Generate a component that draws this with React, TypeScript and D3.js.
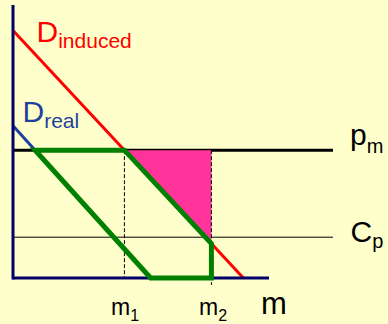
import React from "react";
import * as d3 from "d3";

// Model values (chart units)
const priceLevels = { pm: 4.7, cp: 1.5 };
const dInduced = { intercept: 9.1, zeroAt: 7.2 };
const dReal = { intercept: 5.6, zeroAt: 4.3 };
const quantities = { m2: 6.2, axisEnd: 8.0, lineEnd: 10.0 };
const axisTop = 10;
const labels = { dInd: ["D", "induced"], dReal: ["D", "real"], pm: ["p", "m"], cp: ["C", "p"], m1: ["m", "1"], m2: ["m", "2"], m: "m" };

const W = 388, H = 324;
const FONT = "Liberation Sans, Arial, sans-serif";

export default function App() {
  const x = d3.scaleLinear().domain([0, 10]).range([13, 333]);
  const y = d3.scaleLinear().domain([0, 10]).range([278, 6]);

  const dInd = (q: number) => dInduced.intercept * (1 - q / dInduced.zeroAt);
  const dRealQ = (p: number) => dReal.zeroAt * (1 - p / dReal.intercept);
  const dIndQ = (p: number) => dInduced.zeroAt * (1 - p / dInduced.intercept);

  const { pm, cp } = priceLevels;
  const m1 = dIndQ(pm);
  const m2 = quantities.m2;

  const line = d3.line<[number, number]>().x((d) => x(d[0])).y((d) => y(d[1]));

  const pink: [number, number][] = [[m1, pm], [m2, pm], [m2, dInd(m2)]];
  const green: [number, number][] = [
    [dRealQ(pm), pm], [m1, pm], [m2, dInd(m2)], [m2, 0], [dReal.zeroAt, 0],
  ];

  return (
    <svg width={W} height={H} style={{ position: "fixed", left: 0, top: 0, background: "#FFFFCC" }} fontFamily={FONT}>
      <rect width={W} height={H} fill="#FFFFCC" />
      {/* C_p line */}
      <line x1={x(0)} x2={x(quantities.lineEnd)} y1={y(cp)} y2={y(cp)} stroke="#000" strokeWidth={1} />
      {/* p_m line */}
      <line x1={x(0)} x2={x(quantities.lineEnd)} y1={y(pm)} y2={y(pm)} stroke="#000" strokeWidth={3} />
      {/* pink triangle */}
      <path d={line(pink)! + "Z"} fill="#FF3399" />
      {/* dashed verticals */}
      <line x1={x(m1)} x2={x(m1)} y1={y(pm)} y2={y(0)} stroke="#000" strokeWidth={1} strokeDasharray="4,2" />
      <line x1={x(m2)} x2={x(m2)} y1={y(pm)} y2={y(0) + 7} stroke="#000" strokeWidth={1} strokeDasharray="4,2" />
      {/* demand lines */}
      <path d={line([[0, dInduced.intercept], [dInduced.zeroAt, 0]])!} stroke="#FF0000" strokeWidth={3} fill="none" />
      <path d={line([[0, dReal.intercept], [dReal.zeroAt, 0]])!} stroke="#1F3F9F" strokeWidth={3} fill="none" />
      {/* axes */}
      <line x1={x(0)} x2={x(0)} y1={y(axisTop) - 1} y2={y(0) + 1.5} stroke="#000066" strokeWidth={3} />
      <line x1={x(0)} x2={x(quantities.axisEnd)} y1={y(0)} y2={y(0)} stroke="#000066" strokeWidth={3} />
      {/* green polygon */}
      <path d={line(green)! + "Z"} fill="none" stroke="#008000" strokeWidth={5} strokeLinejoin="miter" />
      {/* labels */}
      <text x={36.5} y={42} fill="#FF0000" fontSize={30}>
        {labels.dInd[0]}<tspan fontSize={21} dy={6}>{labels.dInd[1]}</tspan>
      </text>
      <text x={22.5} y={122} fill="#1F3F9F" fontSize={30}>
        {labels.dReal[0]}<tspan fontSize={21} dy={6}>{labels.dReal[1]}</tspan>
      </text>
      <text x={350} y={145} fill="#000" fontSize={30}>
        {labels.pm[0]}<tspan fontSize={20} dy={8}>{labels.pm[1]}</tspan>
      </text>
      <text x={350.5} y={242} fill="#000" fontSize={30}>
        {labels.cp[0]}<tspan fontSize={20} dy={6}>{labels.cp[1]}</tspan>
      </text>
      <text x={111} y={315} fill="#000" fontSize={23}>
        {labels.m1[0]}<tspan fontSize={16} dy={6}>{labels.m1[1]}</tspan>
      </text>
      <text x={199} y={315} fill="#000" fontSize={23}>
        {labels.m2[0]}<tspan fontSize={16} dy={6}>{labels.m2[1]}</tspan>
      </text>
      <text x={261} y={314} fill="#000" fontSize={31}>{labels.m}</text>
    </svg>
  );
}
